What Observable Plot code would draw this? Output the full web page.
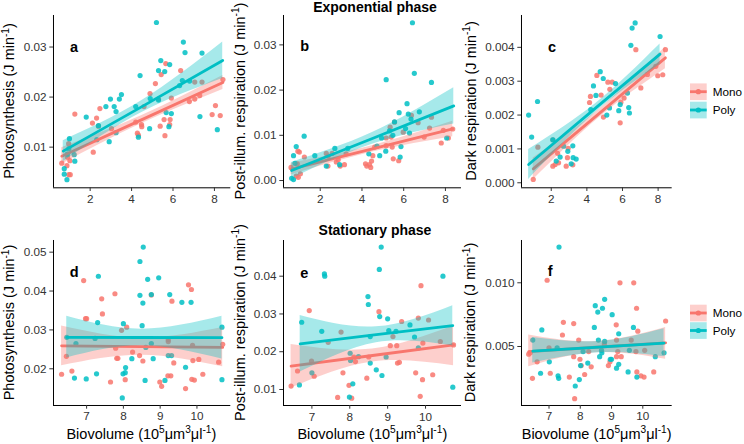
<!DOCTYPE html>
<html><head><meta charset="utf-8">
<script src="https://cdn.jsdelivr.net/npm/d3@7"></script>
<script src="https://cdn.jsdelivr.net/npm/@observablehq/plot@0.6"></script>
<style>
body{margin:0;background:#fff;}
#chart{position:relative;width:744px;height:444px;overflow:hidden;background:#fff;}
</style></head><body><div id="chart"></div>
<script>
const groups = ["Mono","Poly"];
const colors = ["#F8766D","#00BFC4"];
const phases = ["Exponential phase","Stationary phase"];
const yTitles = ["Photosynthesis (J min","Post-illum. respiration (J min","Dark respiration (J min"];
const letters = ["a","b","c","d","e","f"];
const xTicksTop = [2,4,6,8];
const xTicksBottom = [7,8,9,10];
const yTicksA = [0.01,0.02,0.03];
const yTicksB = [0,0.01,0.02,0.03];
const yTicksC = [0,0.001,0.002,0.003,0.004];
const yTicksD = [0.02,0.03,0.04,0.05];
const yTicksE = [0.01,0.02,0.03,0.04];
const yTicksF = [0.005,0.010];

// observations [biovolume, rate]
const aPoly = [[5.2,0.0349],[6.5,0.031],[6.58,0.0289],[7.4,0.0288],[5.41,0.0273],[5.3,0.0253],[5.6,0.0251],[5.84,0.0265],[4.41,0.0243],[6.45,0.0233],[6.8,0.0232],[6.32,0.0223],[3.51,0.0205],[3.41,0.0196],[2.98,0.0196],[3.16,0.0181],[2.76,0.0181],[1.81,0.016],[3.25,0.0171],[4.2,0.0181],[4.9,0.0197],[5.3,0.0194],[5.92,0.0167],[5.67,0.0169],[5.8,0.0141],[7.3,0.0161],[8.14,0.0135],[4.87,0.0137],[4.33,0.012],[3.25,0.0129],[2.92,0.0111],[2.32,0.0115],[1.0,0.0117],[0.97,0.0097],[1.23,0.0085],[1.26,0.0072],[0.75,0.0057],[0.75,0.0046],[0.88,0.0035],[0.9,0.0086],[2.4,0.0143]];
const aMono = [[5.65,0.0267],[6.37,0.0253],[5.43,0.0245],[5.15,0.0227],[7.05,0.023],[7.4,0.023],[8.41,0.0235],[4.89,0.0207],[5.3,0.0196],[5.92,0.0198],[7.29,0.0203],[7.05,0.0196],[8.05,0.0183],[6.79,0.0191],[2.47,0.0177],[2.31,0.0158],[1.26,0.0166],[2.11,0.0148],[4.6,0.0181],[4.2,0.015],[4.48,0.0145],[4.49,0.0141],[5.38,0.0142],[5.57,0.0155],[5.86,0.0155],[5.84,0.0145],[5.61,0.0123],[7.89,0.0165],[8.28,0.0163],[4.28,0.0128],[4.33,0.0124],[2.15,0.009],[2.4,0.0142],[3.03,0.0137],[0.96,0.0107],[0.91,0.008],[0.63,0.0068],[0.88,0.0063],[0.97,0.0045],[1.04,0.0045],[1.02,0.0073]];
const bPoly = [[6.42,0.0349],[6.51,0.0237],[7.33,0.0217],[5.16,0.0223],[6.16,0.017],[6.22,0.0147],[6.75,0.0152],[5.78,0.015],[6.35,0.0136],[5.56,0.013],[1.23,0.0098],[0.85,0.0075],[0.72,0.0055],[1.74,0.0055],[2.7,0.0071],[3.32,0.0071],[5.32,0.011],[4.94,0.0094],[5.48,0.01],[6.09,0.0115],[6.28,0.0105],[5.87,0.0075],[5.83,0.0052],[4.85,0.0055],[4.33,0.0059],[5.14,0.0065],[2.29,0.0032],[2.93,0.0035],[0.63,0.0005],[0.72,0.0002],[8.06,0.0094],[0.79,0.0038],[4.72,0.0076]];
const bMono = [[6.37,0.0144],[7.33,0.014],[5.56,0.0129],[6.69,0.0128],[5.35,0.0118],[7.24,0.0116],[5.98,0.0107],[5.16,0.0094],[5.4,0.0096],[7.9,0.0111],[8.35,0.0114],[8.14,0.0094],[7.8,0.0083],[6.98,0.0096],[5.16,0.0077],[5.45,0.0074],[5.5,0.0048],[5.76,0.0044],[4.61,0.0074],[4.52,0.0055],[4.17,0.0037],[4.23,0.0032],[4.36,0.0035],[4.46,0.0043],[4.42,0.0029],[3.24,0.0059],[3.16,0.0035],[2.96,0.0032],[2.77,0.0041],[2.86,0.0046],[2.38,0.0054],[2.37,0.0032],[1.24,0.0052],[1.0,0.0063],[0.93,0.0065],[0.9,0.0037],[0.6,0.0029],[0.85,0.001],[0.95,0.0007],[1.05,0.0015],[2.29,0.006],[2.57,0.006]];
const cPoly = [[6.71,0.00472],[6.54,0.00457],[8.11,0.00432],[6.47,0.00406],[0.73,0.002],[1.23,0.0024],[0.9,0.00135],[4.75,0.00328],[4.92,0.00308],[4.37,0.00286],[4.51,0.00258],[5.61,0.00293],[6.28,0.00265],[5.87,0.00231],[5.79,0.00213],[6.35,0.00222],[6.39,0.00206],[5.12,0.002],[5.27,0.00221],[4.22,0.00216],[2.09,0.00127],[2.69,0.00108],[3.21,0.00109],[2.93,0.00093],[2.5,0.00076],[2.28,0.00064],[3.23,0.00074],[3.4,0.0007],[3.12,0.00056]];
const cMono = [[6.75,0.00393],[8.41,0.00393],[7.87,0.00344],[7.98,0.00316],[8.26,0.00319],[4.56,0.00317],[5.18,0.00297],[5.42,0.00297],[5.29,0.00276],[4.8,0.00259],[4.2,0.00255],[4.15,0.00237],[6.09,0.0025],[7.03,0.0028],[7.4,0.0032],[5.91,0.00238],[4.93,0.00194],[5.87,0.00177],[1.25,0.00105],[2.09,0.00127],[2.36,0.00087],[2.41,0.00059],[2.22,0.00054],[2.09,0.00049],[2.84,0.00049],[2.95,0.00102],[2.91,0.00074],[3.21,0.00053],[0.99,0.0001]];
const dPoly = [[8.54,0.0513],[8.45,0.0476],[7.32,0.0438],[8.96,0.0434],[8.66,0.043],[8.45,0.0389],[8.76,0.0391],[9.26,0.0391],[8.53,0.0369],[9.84,0.0371],[9.59,0.0371],[8.51,0.0311],[7.3,0.0319],[10.68,0.0307],[6.46,0.0281],[7.23,0.0278],[6.71,0.0265],[8.0,0.0316],[8.76,0.0265],[8.61,0.0255],[9.22,0.0234],[9.31,0.0234],[8.81,0.0226],[8.23,0.0226],[9.69,0.0204],[8.06,0.0203],[8.05,0.019],[7.99,0.0187],[7.27,0.0187],[6.67,0.0176],[6.99,0.0174],[9.13,0.017],[8.59,0.017],[10.68,0.0172],[7.97,0.0125]];
const dMono = [[6.92,0.0427],[9.77,0.0416],[9.85,0.0404],[7.77,0.0393],[8.76,0.039],[9.32,0.0374],[7.41,0.038],[7.43,0.0341],[6.97,0.0329],[7.0,0.0329],[7.95,0.0299],[8.09,0.0307],[9.22,0.0275],[9.88,0.026],[10.7,0.0263],[7.79,0.0253],[6.45,0.0232],[7.85,0.0227],[8.25,0.0243],[8.44,0.0234],[8.53,0.022],[9.37,0.0215],[9.89,0.0221],[10.05,0.0224],[10.59,0.0217],[6.32,0.0186],[6.6,0.0194],[8.05,0.0172],[7.65,0.0166],[8.99,0.0166],[9.04,0.0155],[9.21,0.0182],[9.29,0.0182],[9.86,0.0173],[9.93,0.0171],[10.16,0.0186],[9.69,0.0149],[7.82,0.0227],[9.22,0.027]];
const ePoly = [[8.83,0.0477],[8.78,0.0418],[7.33,0.0406],[7.34,0.04],[10.46,0.04],[8.48,0.0346],[8.49,0.0325],[6.73,0.0278],[8.79,0.0293],[9.0,0.0287],[9.59,0.0271],[7.26,0.0254],[9.03,0.0256],[9.22,0.0254],[9.71,0.0239],[8.54,0.024],[8.01,0.0196],[8.23,0.0187],[8.54,0.017],[8.96,0.0186],[8.02,0.0177],[7.0,0.0144],[8.7,0.0152],[8.85,0.0137],[8.08,0.0115],[6.67,0.0112],[7.99,0.008],[10.72,0.0106],[9.81,0.021]];
const eMono = [[9.88,0.0375],[6.93,0.0309],[8.77,0.0306],[9.37,0.028],[9.81,0.0289],[10.08,0.0284],[7.77,0.0252],[7.43,0.0225],[10.39,0.0227],[9.14,0.024],[9.24,0.0216],[9.07,0.0216],[9.93,0.0223],[6.99,0.0175],[8.15,0.0174],[8.5,0.0186],[8.11,0.0186],[9.26,0.017],[9.31,0.0172],[7.82,0.0144],[8.45,0.013],[7.06,0.0135],[6.62,0.0149],[6.45,0.0109],[7.98,0.0111],[9.74,0.0144],[9.92,0.0126],[10.19,0.0139],[9.86,0.0082],[7.68,0.0079],[8.05,0.0077],[10.74,0.0218]];
const fPoly = [[7.32,0.0128],[8.78,0.0087],[8.48,0.0082],[8.71,0.008],[8.56,0.0077],[9.02,0.0075],[6.77,0.0063],[8.45,0.0065],[9.7,0.0065],[9.23,0.006],[6.48,0.0055],[8.58,0.0055],[8.78,0.0054],[7.26,0.0049],[8.68,0.0047],[8.69,0.0045],[8.09,0.0046],[9.57,0.0047],[7.01,0.0038],[8.62,0.0042],[8.96,0.004],[9.0,0.004],[10.4,0.0042],[10.68,0.0045],[8.01,0.0035],[8.24,0.0037],[9.16,0.0033],[9.23,0.0036],[6.73,0.0029],[7.29,0.0027],[7.31,0.0025],[9.53,0.003],[9.81,0.0026],[7.97,0.0024],[7.84,0.0019]];
const fMono = [[6.94,0.0102],[9.27,0.01],[9.71,0.01],[9.8,0.008],[7.46,0.0069],[7.79,0.0068],[10.73,0.007],[9.15,0.0067],[9.84,0.0062],[7.43,0.0059],[7.95,0.0055],[9.16,0.0055],[9.63,0.0055],[8.77,0.0052],[6.35,0.0044],[6.4,0.0045],[7.0,0.0049],[8.27,0.0046],[9.2,0.0046],[10.06,0.0047],[9.78,0.0046],[6.62,0.0038],[7.79,0.0042],[7.99,0.004],[9.16,0.0042],[9.31,0.0042],[8.95,0.0038],[8.9,0.0035],[8.35,0.0034],[8.03,0.0035],[8.14,0.0028],[7.04,0.0029],[7.65,0.0026],[6.47,0.0025],[9.81,0.003],[9.94,0.0027],[10.04,0.0026],[10.35,0.003],[7.82,0.0009]];

// fitted lines with 95% bands: [biovolume, lower, fit, upper]
const aMonoFit = [[0.63,0.0066,0.0082,0.0099],[4.5,0.0147,0.0155,0.0163],[8.41,0.0215,0.0229,0.0243]];
const aPolyFit = [[0.7,0.0071,0.0092,0.0113],[4.5,0.0169,0.0181,0.0193],[8.4,0.0237,0.0273,0.031]];
const bMonoFit = [[0.6,0.0012,0.0025,0.0038],[4.5,0.0063,0.0070,0.0077],[8.35,0.0097,0.0114,0.0131]];
const bPolyFit = [[0.63,0.0004,0.0022,0.0040],[4.5,0.0080,0.0093,0.0106],[8.4,0.0125,0.0165,0.0205]];
const cMonoFit = [[0.99,0.00009,0.00041,0.00073],[4.7,0.00193,0.00205,0.00217],[8.41,0.00337,0.00369,0.00401]];
const cPolyFit = [[0.73,0.0001,0.00054,0.00098],[4.5,0.00208,0.00221,0.00234],[8.11,0.0035,0.0038,0.0041]];
const dMonoFit = [[6.32,0.0208,0.0259,0.031],[8.5,0.0235,0.0257,0.0279],[10.7,0.0205,0.0255,0.0306]];
const dPolyFit = [[6.46,0.0228,0.0281,0.0335],[8.5,0.0259,0.02805,0.0302],[10.68,0.0225,0.0280,0.0335]];
const eMonoFit = [[6.45,0.0104,0.0162,0.0219],[8.6,0.0173,0.0190,0.0207],[10.74,0.0163,0.0218,0.0268]];
const ePolyFit = [[6.69,0.0146,0.0221,0.0296],[8.7,0.0224,0.0245,0.0266],[10.72,0.0216,0.0269,0.0322]];
const fMonoFit = [[6.35,0.0034,0.0046,0.0059],[8.5,0.0045,0.00494,0.0054],[10.73,0.0040,0.00529,0.0065]];
const fPolyFit = [[6.48,0.0037,0.00463,0.0057],[8.6,0.0045,0.00495,0.0054],[10.68,0.0042,0.00526,0.0064]];

const FONT = '"Liberation Sans", Arial, Helvetica, sans-serif';
const chartEl = document.getElementById("chart");
const f2 = d3.format(".2f"), f3 = d3.format(".3f");

const panels = [
  {mono:aMono, poly:aPoly, fits:[aMonoFit,aPolyFit], frame:[52.7,230,15,187.3], xd:[0.23,8.79], yd:[0.00188,0.0363], xt:xTicksTop, yt:yTicksA, fmt:f2, lab:[20.6,32]},
  {mono:bMono, poly:bPoly, fits:[bMonoFit,bPolyFit], frame:[283.3,461.3,15,187.3], xd:[0.24,8.77], yd:[-0.00161,0.0365], xt:xTicksTop, yt:yTicksB, fmt:f2, lab:[21.2,31]},
  {mono:cMono, poly:cPoly, fits:[cMonoFit,cPolyFit], frame:[521.3,672,15,187.3], xd:[0.33,8.79], yd:[-0.000148,0.00494], xt:xTicksTop, yt:yTicksC, fmt:f3, lab:[30.5,32]},
  {mono:dMono, poly:dPoly, fits:[dMonoFit,dPolyFit], frame:[52.7,230,240,405], xd:[6.10,10.92], yd:[0.01056,0.0530], xt:xTicksBottom, yt:yTicksD, fmt:f2, lab:[20.6,31.7]},
  {mono:eMono, poly:ePoly, fits:[eMonoFit,ePolyFit], frame:[283.3,461.3,240,405], xd:[6.25,10.95], yd:[0.00576,0.04945], xt:xTicksBottom, yt:yTicksE, fmt:f2, lab:[20.7,32.7]},
  {mono:fMono, poly:fPoly, fits:[fMonoFit,fPolyFit], frame:[521.3,672,240,405], xd:[6.12,10.94], yd:[0.000369,0.01332], xt:xTicksBottom, yt:yTicksF, fmt:f3, lab:[28.7,31]}
];

panels.forEach((p, i) => {
  const rows = [
    ...p.mono.map(([x, y]) => ({x, y, g: groups[0]})),
    ...p.poly.map(([x, y]) => ({x, y, g: groups[1]}))
  ];
  const fitMarks = [];
  p.fits.forEach((fit, j) => {
    const fr = fit.map(([x, lo, y, hi]) => ({x, lo, y, hi, g: groups[j]}));
    fitMarks.push(
      Plot.areaY(fr, {x: "x", y1: "lo", y2: "hi", fill: "g", fillOpacity: 0.35, curve: "natural"}),
      Plot.line(fr, {x: "x", y: "y", stroke: "g", strokeWidth: 2.8})
    );
  });
  const ml = 45, mr = 10, mt = 10, mb = 28;
  const [L, R, T, B] = p.frame;
  const svg = Plot.plot({
    width: R - L + ml + mr,
    height: B - T + mt + mb,
    marginLeft: ml, marginRight: mr, marginTop: mt, marginBottom: mb,
    style: {background: "transparent", overflow: "visible", fontFamily: FONT, fontSize: "11.7px", color: "#333"},
    x: {domain: p.xd},
    y: {domain: p.yd},
    color: {domain: groups, range: colors},
    marks: [
      Plot.dot(rows, {x: "x", y: "y", fill: "g", r: 2.6, fillOpacity: 0.85}),
      ...fitMarks,
      Plot.ruleX([p.xd[0]], {stroke: "#000", strokeWidth: 1}),
      Plot.ruleY([p.yd[0]], {stroke: "#000", strokeWidth: 1}),
      Plot.axisX(p.xt, {tickSize: 3.7, tickPadding: 3, label: null}),
      Plot.axisY(p.yt, {tickSize: 3.7, tickPadding: 3.3, label: null, tickFormat: p.fmt}),
      Plot.text([letters[i]], {text: d => d, frameAnchor: "top-left", dx: p.lab[0], dy: p.lab[1], textAnchor: "middle", lineAnchor: "middle", fontWeight: "bold", fontSize: 14.5, fill: "#000"})
    ]
  });
  svg.style.position = "absolute";
  svg.style.left = (L - ml) + "px";
  svg.style.top = (T - mt) + "px";
  chartEl.append(svg);
});

// Overlay: titles, axis titles, legends
const ov = d3.select(chartEl).append("svg")
  .attr("width", 744).attr("height", 444)
  .style("position", "absolute").style("left", "0px").style("top", "0px")
  .style("font-family", FONT).style("pointer-events", "none");

ov.append("text").attr("x", 375).attr("y", 12).attr("text-anchor", "middle")
  .attr("font-weight", "bold").attr("font-size", 14).text(phases[0]);
ov.append("text").attr("x", 375).attr("y", 234.5).attr("text-anchor", "middle")
  .attr("font-weight", "bold").attr("font-size", 14).text(phases[1]);

function supText(sel, parts, size) {
  let up = false;
  parts.forEach(([t, s]) => {
    const ts = sel.append("tspan").text(t);
    if (s && !up) { ts.attr("dy", -size * 0.38).attr("font-size", size * 0.7); up = true; }
    else if (!s && up) { ts.attr("dy", size * 0.38); up = false; }
    else if (s) { ts.attr("font-size", size * 0.7); }
  });
}

const yTitlePos = [[14, 101], [244.5, 101], [475.5, 101], [14, 322.5], [244.5, 322.5], [475, 322.5]];
yTitlePos.forEach(([bx, cy], i) => {
  const t = ov.append("text").attr("transform", `translate(${bx},${cy}) rotate(-90)`)
    .attr("text-anchor", "middle").attr("font-size", 14.5).attr("fill", "#000");
  supText(t, [[yTitles[i % 3], false], ["-1", true], [")", false]], 14.5);
});

[141.35, 372.3, 596.65].forEach(cx => {
  const t = ov.append("text").attr("x", cx).attr("y", 438.5).attr("text-anchor", "middle")
    .attr("font-size", 14.5).attr("fill", "#000");
  supText(t, [["Biovolume (10", false], ["5", true], ["\u03bcm", false], ["3", true], ["\u03bcl", false], ["-1", true], [")", false]], 14.5);
});

[[91.7, 110], [313, 330.5]].forEach(cs => {
  cs.forEach((c, j) => {
    ov.append("rect").attr("x", 690).attr("y", c - 8.3).attr("width", 16.7).attr("height", 16.7)
      .attr("fill", colors[j]).attr("fill-opacity", 0.35);
    ov.append("line").attr("x1", 690).attr("x2", 706.7).attr("y1", c).attr("y2", c)
      .attr("stroke", colors[j]).attr("stroke-width", 2.8);
    ov.append("circle").attr("cx", 698.35).attr("cy", c).attr("r", 2.6).attr("fill", colors[j]);
    ov.append("text").attr("x", 712.7).attr("y", c + 4.2).attr("font-size", 11.7).attr("fill", "#000").text(groups[j]);
  });
});
</script></body></html>
